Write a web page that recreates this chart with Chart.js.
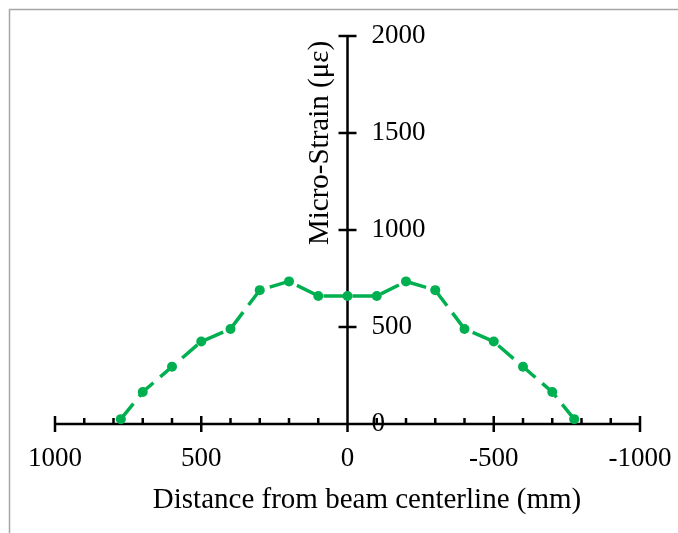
<!DOCTYPE html>
<html>
<head>
<meta charset="utf-8">
<script src="https://cdn.jsdelivr.net/npm/chart.js@4.4.0/dist/chart.umd.min.js"></script>
<style>
  html, body { margin: 0; padding: 0; background: #fff; }
  #wrap { width: 678px; height: 533px; position: relative; }
</style>
</head>
<body>
<div id="wrap"><canvas id="strain_chart" width="678" height="533"></canvas></div>
<script>
// distance from beam centerline (mm) and measured micro-strain
const distances = [775, 700, 600, 500, 400, 300, 200, 100, 0, -100, -200, -300, -400, -500, -600, -700, -775];
const strains = [25, 165, 295, 425, 490, 690, 735, 660, 660, 660, 735, 690, 490, 425, 295, 165, 25];

const xTicks = [1000, 500, 0, -500, -1000];
const xMinorTicks = [900, 800, 700, 600, 400, 300, 200, 100, -100, -200, -300, -400, -600, -700, -800, -900];
const yTicks = [0, 500, 1000, 1500, 2000];

const xTitle = "Distance from beam centerline (mm)";
const yTitle = "Micro-Strain (με)";

const TICK_FONT = "27px 'Liberation Serif', 'Times New Roman', serif";
const TITLE_FONT = "29px 'Liberation Serif', 'Times New Roman', serif";

// axes cross at the origin, so they are drawn here from the chart's scales
const crossAxes = {
  id: "crossAxes",
  beforeDraw(chart) {
    const ctx = chart.ctx;
    ctx.save();
    ctx.strokeStyle = "#a6a6a6";
    ctx.lineWidth = 1.5;
    ctx.beginPath();
    ctx.moveTo(9.5, 533);
    ctx.lineTo(9.5, 9.5);
    ctx.lineTo(678, 9.5);
    ctx.stroke();
    ctx.restore();
  },
  beforeDatasetsDraw(chart) {
    const ctx = chart.ctx;
    const x = chart.scales.x;
    const y = chart.scales.y;
    const x0 = x.getPixelForValue(0);
    const y0 = y.getPixelForValue(0);

    ctx.save();
    ctx.strokeStyle = "#000";
    ctx.lineWidth = 2.5;

    ctx.beginPath();
    ctx.moveTo(x.getPixelForValue(xTicks[0]), y0);
    ctx.lineTo(x.getPixelForValue(xTicks[xTicks.length - 1]), y0);
    ctx.moveTo(x0, y.getPixelForValue(yTicks[yTicks.length - 1]));
    ctx.lineTo(x0, y0);

    xTicks.forEach((v) => {
      const px = x.getPixelForValue(v);
      ctx.moveTo(px, y0 - 8);
      ctx.lineTo(px, y0 + 8);
    });
    xMinorTicks.forEach((v) => {
      const px = x.getPixelForValue(v);
      ctx.moveTo(px, y0 - 6);
      ctx.lineTo(px, y0);
    });
    yTicks.forEach((v) => {
      const py = y.getPixelForValue(v);
      ctx.moveTo(x0 - 9, py);
      ctx.lineTo(x0 + 9, py);
    });
    ctx.stroke();

    ctx.fillStyle = "#000";
    ctx.font = TICK_FONT;
    ctx.textAlign = "center";
    ctx.textBaseline = "middle";
    xTicks.forEach((v) => {
      ctx.fillText(String(v), x.getPixelForValue(v), y0 + 35);
    });

    ctx.textAlign = "left";
    yTicks.forEach((v) => {
      ctx.fillText(String(v), x0 + 24, y.getPixelForValue(v));
    });

    ctx.font = TITLE_FONT;
    ctx.textAlign = "center";
    ctx.textBaseline = "alphabetic";
    ctx.fillText(xTitle, 367, 508);

    ctx.translate(328, 143);
    ctx.rotate(-Math.PI / 2);
    ctx.fillText(yTitle, 0, 0);
    ctx.restore();
  },
};

const ctx = document.getElementById("strain_chart").getContext("2d");
const chart = new Chart(ctx, {
  type: "line",
  data: {
    datasets: [
      {
        label: "Micro-Strain",
        data: distances.map((d, i) => ({ x: d, y: strains[i] })),
        borderColor: "#00b050",
        backgroundColor: "#00b050",
        borderWidth: 3.5,
        borderDash: [20, 9],
        pointRadius: 5,
        pointBorderWidth: 0,
        pointBackgroundColor: "#00b050",
        tension: 0,
        clip: false,
      },
    ],
  },
  options: {
    responsive: false,
    animation: false,
    layout: { padding: { left: 55, right: 38, top: 36, bottom: 109 } },
    plugins: { legend: { display: false }, tooltip: { enabled: false } },
    scales: {
      x: { type: "linear", min: -1000, max: 1000, reverse: true, display: false },
      y: { type: "linear", min: 0, max: 2000, display: false },
    },
  },
  plugins: [crossAxes],
});
</script>
</body>
</html>
